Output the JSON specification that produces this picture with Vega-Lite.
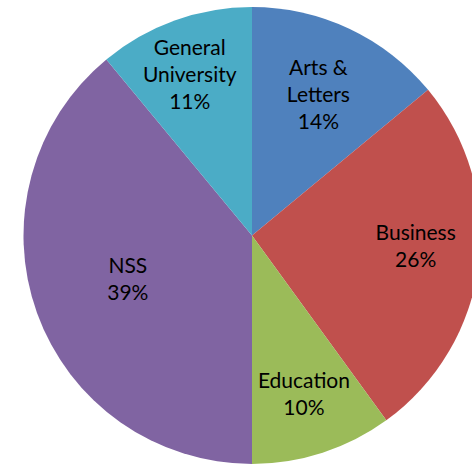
{
  "$schema": "https://vega.github.io/schema/vega-lite/v6.json",
  "width": 504,
  "height": 471,
  "padding": 0,
  "autosize": {"type": "none"},
  "background": "white",
  "view": {"stroke": null},
  "data": {"values": [
    {"category": "Arts & Letters", "rank": 1, "pct": 14, "label": "Arts &\nLetters\n14%"},
    {"category": "Business", "rank": 2, "pct": 26, "label": "Business\n26%"},
    {"category": "Education", "rank": 3, "pct": 10, "label": "Education\n10%"},
    {"category": "NSS", "rank": 4, "pct": 39, "label": "NSS\n39%"},
    {"category": "General University", "rank": 5, "pct": 11, "label": "General\nUniversity\n11%"}
  ]},
  "encoding": {
    "theta": {"field": "pct", "type": "quantitative", "stack": true},
    "order": {"field": "rank", "type": "quantitative", "sort": "ascending"},
    "color": {
      "field": "category", "type": "nominal", "legend": null,
      "scale": {
        "domain": ["Arts & Letters", "Business", "Education", "NSS", "General University"],
        "range": ["#4F81BD", "#C0504D", "#9BBB59", "#8064A2", "#4BACC6"]
      }
    }
  },
  "layer": [
    {"mark": {"type": "arc", "outerRadius": 228.5, "stroke": null}},
    {
      "mark": {"type": "text", "radius": 156, "dy": -25, "lineBreak": "\n", "font": "Lato", "fontSize": 21, "lineHeight": 27, "baseline": "middle", "fill": "black"},
      "encoding": {"text": {"condition": {"test": "datum.category == 'Arts & Letters'", "field": "label"}, "value": ""}, "color": {"value": "black"}}
    },
    {
      "mark": {"type": "text", "radius": 165, "dy": -22.5, "lineBreak": "\n", "font": "Lato", "fontSize": 21, "lineHeight": 27, "baseline": "middle", "fill": "black"},
      "encoding": {"text": {"condition": {"test": "datum.category == 'Business'", "field": "label"}, "value": ""}, "color": {"value": "black"}}
    },
    {
      "mark": {"type": "text", "radius": 168, "dy": -13.5, "lineBreak": "\n", "font": "Lato", "fontSize": 21, "lineHeight": 27, "baseline": "middle", "fill": "black"},
      "encoding": {"text": {"condition": {"test": "datum.category == 'Education'", "field": "label"}, "value": ""}, "color": {"value": "black"}}
    },
    {
      "mark": {"type": "text", "radius": 132, "dy": -13, "lineBreak": "\n", "font": "Lato", "fontSize": 21, "lineHeight": 27, "baseline": "middle", "fill": "black"},
      "encoding": {"text": {"condition": {"test": "datum.category == 'NSS'", "field": "label"}, "value": ""}, "color": {"value": "black"}}
    },
    {
      "mark": {"type": "text", "radius": 172, "dy": -25, "dx": -4, "lineBreak": "\n", "font": "Lato", "fontSize": 21, "lineHeight": 27, "baseline": "middle", "fill": "black"},
      "encoding": {"text": {"condition": {"test": "datum.category == 'General University'", "field": "label"}, "value": ""}, "color": {"value": "black"}}
    }
  ]
}
